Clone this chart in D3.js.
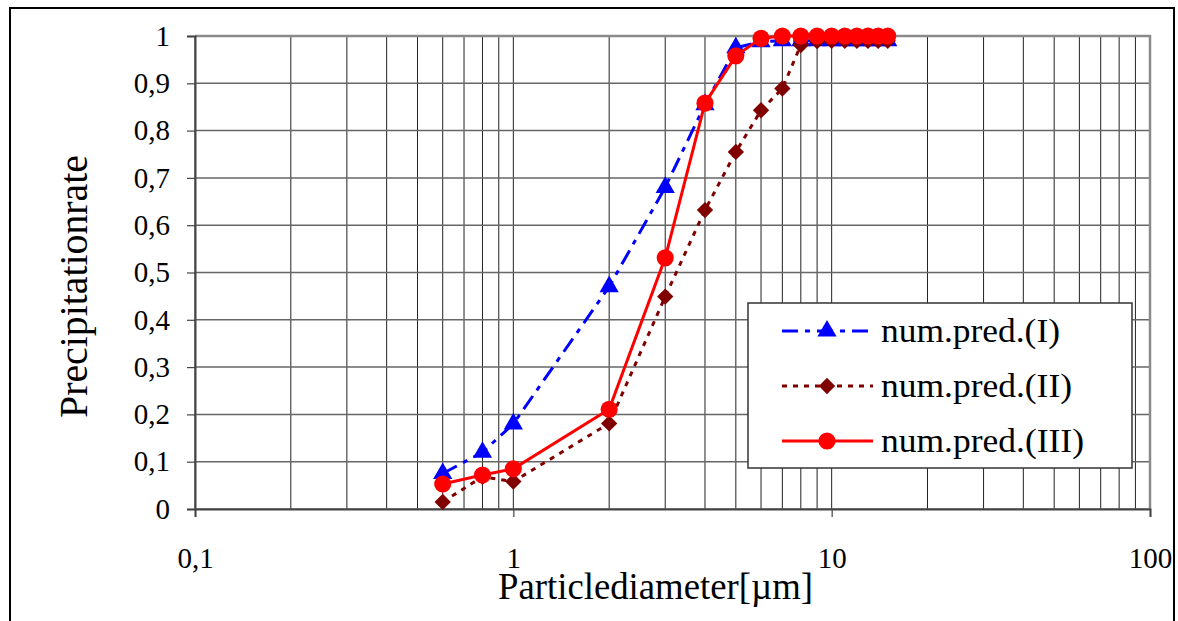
<!DOCTYPE html>
<html>
<head>
<meta charset="utf-8">
<script src="https://cdn.jsdelivr.net/npm/d3@7"></script>
<style>
  body { margin: 0; background: #fff; }
  svg text { font-family: "Liberation Serif", "Times New Roman", "DejaVu Serif", serif; }
</style>
</head>
<body>
<svg id="chart" width="1178" height="621"></svg>
<script>
// particle diameters [um] the model was evaluated at
const diameters = [0.6, 0.8, 1, 2, 3, 4, 5, 6, 7, 8, 9, 10, 11, 12, 13, 14, 15];

// precipitation rate
const predI   = [0.075, 0.12, 0.18, 0.47, 0.68, 0.855, 0.975, 0.988, 0.99, 0.99, 0.99, 0.99, 0.99, 0.99, 0.99, 0.99, 0.99];
const predII  = [0.015, 0.068, 0.058, 0.181, 0.449, 0.632, 0.755, 0.843, 0.889, 0.981, 0.989, 0.99, 0.99, 0.99, 0.99, 0.99, 0.99];
const predIII = [0.053, 0.072, 0.085, 0.211, 0.531, 0.858, 0.958, 0.995, 1, 1, 1, 1, 1, 1, 1, 1, 1];

const seriesNames = ["num.pred.(I)", "num.pred.(II)", "num.pred.(III)"];
const xTicks = [0.1, 1, 10, 100];
const yTicks = [0, 0.1, 0.2, 0.3, 0.4, 0.5, 0.6, 0.7, 0.8, 0.9, 1];

const serif = '"Liberation Serif", "Times New Roman", serif';
const svg = d3.select("#chart");

// outer chart frame
svg.append("rect")
  .attr("x", 10).attr("y", 8)
  .attr("width", 1164).attr("height", 640)
  .attr("fill", "#fff")
  .attr("stroke", "#000")
  .attr("stroke-width", 2);

const x = d3.scaleLog().domain([0.1, 100]).range([195, 1150]);
const y = d3.scaleLinear().domain([0, 1]).range([509, 36]);

// comma as decimal separator
const loc = d3.formatLocale({decimal: ",", thousands: ".", grouping: [3], currency: ["", ""]});
const fmt = loc.format("~g");

// grid
const grid = svg.append("g");
grid.selectAll("line.v")
  .data(x.ticks())
  .join("line")
  .attr("class", "v")
  .attr("x1", d => x(d)).attr("x2", d => x(d))
  .attr("y1", y(0)).attr("y2", y(1))
  .attr("stroke", "#222")
  .attr("stroke-width", 1);
grid.selectAll("line.h")
  .data(yTicks)
  .join("line")
  .attr("class", "h")
  .attr("x1", x(0.1)).attr("x2", x(100))
  .attr("y1", d => y(d)).attr("y2", d => y(d))
  .attr("stroke", "#666")
  .attr("stroke-width", 1.5);

// plot area border (top and right grey)
svg.append("path")
  .attr("d", `M${x(0.1)},${y(1)}H${x(100)}V${y(0)}`)
  .attr("fill", "none")
  .attr("stroke", "#8a8a8a")
  .attr("stroke-width", 2.5);

// axes
const yAxis = svg.append("g")
  .attr("transform", `translate(${x(0.1)},0)`)
  .call(d3.axisLeft(y).tickValues(yTicks).tickFormat(fmt).tickSize(8).tickPadding(17));
const xAxis = svg.append("g")
  .attr("transform", `translate(0,${y(0)})`)
  .call(d3.axisBottom(x).tickValues(xTicks).tickFormat(fmt).tickSize(8).tickPadding(30));

[yAxis, xAxis].forEach(ax => {
  ax.attr("font-family", null).attr("font-size", null);
  ax.select(".domain").attr("stroke", "#444").attr("stroke-width", 2);
  ax.selectAll(".tick line").attr("stroke", "#444").attr("stroke-width", 1.2);
  ax.selectAll(".tick text")
    .style("font-family", serif)
    .style("font-size", "29px")
    .attr("fill", "#000");
});

// axis titles
svg.append("text")
  .attr("x", 498).attr("y", 599)
  .style("font-size", "38px")
  .attr("textLength", 315)
  .attr("lengthAdjust", "spacingAndGlyphs")
  .text("Particlediameter[\u00b5m]");
svg.append("text")
  .attr("transform", "translate(87,418) rotate(-90)")
  .style("font-size", "39px")
  .attr("textLength", 263)
  .attr("lengthAdjust", "spacingAndGlyphs")
  .text("Precipitationrate");

// series
const series = [
  {name: seriesNames[0], values: predI,   color: "#0000ff", dash: "16,7,5,7", marker: d3.symbolTriangle, size: 160, w: 179},
  {name: seriesNames[1], values: predII,  color: "#800000", dash: "5,6",      marker: d3.symbolDiamond2, size: 170, w: 191},
  {name: seriesNames[2], values: predIII, color: "#ff0000", dash: null,       marker: d3.symbolCircle,   size: 230, w: 203}
];

const line = d3.line().x(d => x(d[0])).y(d => y(d[1]));

series.forEach(s => {
  const pts = diameters.map((d, i) => [d, s.values[i]]);
  const g = svg.append("g");
  g.append("path")
    .datum(pts)
    .attr("d", line)
    .attr("fill", "none")
    .attr("stroke", s.color)
    .attr("stroke-width", 3)
    .attr("stroke-dasharray", s.dash);
  g.selectAll("path.m")
    .data(pts)
    .join("path")
    .attr("class", "m")
    .attr("transform", d => `translate(${x(d[0])},${y(d[1])})`)
    .attr("d", d3.symbol(s.marker, s.size))
    .attr("fill", s.color);
});

// legend
const lg = svg.append("g").attr("transform", "translate(748,303)");
lg.append("rect")
  .attr("width", 384).attr("height", 165)
  .attr("fill", "#fff")
  .attr("stroke", "#333")
  .attr("stroke-width", 1.5);
series.forEach((s, i) => {
  const ly = 28 + i * 55;
  lg.append("line")
    .attr("x1", 34).attr("x2", 125)
    .attr("y1", ly).attr("y2", ly)
    .attr("stroke", s.color)
    .attr("stroke-width", 3)
    .attr("stroke-dasharray", s.dash);
  lg.append("path")
    .attr("transform", `translate(79,${ly})`)
    .attr("d", d3.symbol(s.marker, s.size))
    .attr("fill", s.color);
  lg.append("text")
    .attr("x", 133).attr("y", ly + 11)
    .style("font-size", "34px")
    .attr("textLength", s.w)
    .attr("lengthAdjust", "spacingAndGlyphs")
    .text(s.name);
});
</script>
</body>
</html>
